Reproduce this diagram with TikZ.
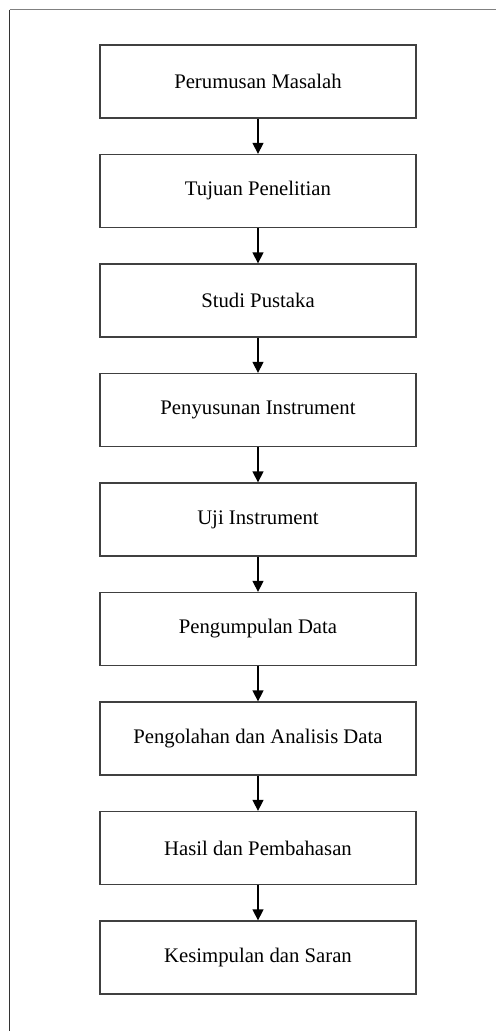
\documentclass[tikz,border=0pt]{standalone}
\usepackage{fontspec}
\setmainfont{Liberation Serif}
\usetikzlibrary{positioning, arrows.meta}

\tikzset{
	tahap/.style={draw=black!75, line width=1.3bp, minimum width=316bp, minimum height=73bp,
		font=\fontsize{20.8}{24}\selectfont, inner sep=0pt},
	panah/.style={-{Triangle[length=11bp, width=11bp]}, black, line width=1.3bp}
}

\begin{document}
\begin{tikzpicture}[x=1bp, y=1bp, node distance=35.2bp]
		\useasboundingbox (0, 0) rectangle (496, -1031);
		\draw[black!50, line width=1.4bp] (9.5, -9.5) -- (500, -9.5);
		\draw[black!80, line width=1.4bp] (9.5, -9.5) -- (9.5, -1035);
		\node[tahap] (perumusan) at (258, -81.5) {Perumusan Masalah};
		\node[tahap, below=of perumusan] (tujuan) {Tujuan Penelitian};
		\node[tahap, below=of tujuan] (studi) {Studi Pustaka};
		\node[tahap, below=of studi] (penyusunan) {Penyusunan Instrument};
		\node[tahap, below=of penyusunan] (uji) {Uji Instrument};
		\node[tahap, below=of uji] (pengumpulan) {Pengumpulan Data};
		\node[tahap, below=of pengumpulan] (pengolahan) {Pengolahan dan Analisis Data};
		\node[tahap, below=of pengolahan] (hasil) {Hasil dan Pembahasan};
		\node[tahap, below=of hasil] (kesimpulan) {Kesimpulan dan Saran};
		\foreach \a/\b in {perumusan/tujuan, tujuan/studi, studi/penyusunan, penyusunan/uji,
			uji/pengumpulan, pengumpulan/pengolahan, pengolahan/hasil, hasil/kesimpulan}
			\draw[panah] (\a) -- (\b);
	\end{tikzpicture}
\end{document}
